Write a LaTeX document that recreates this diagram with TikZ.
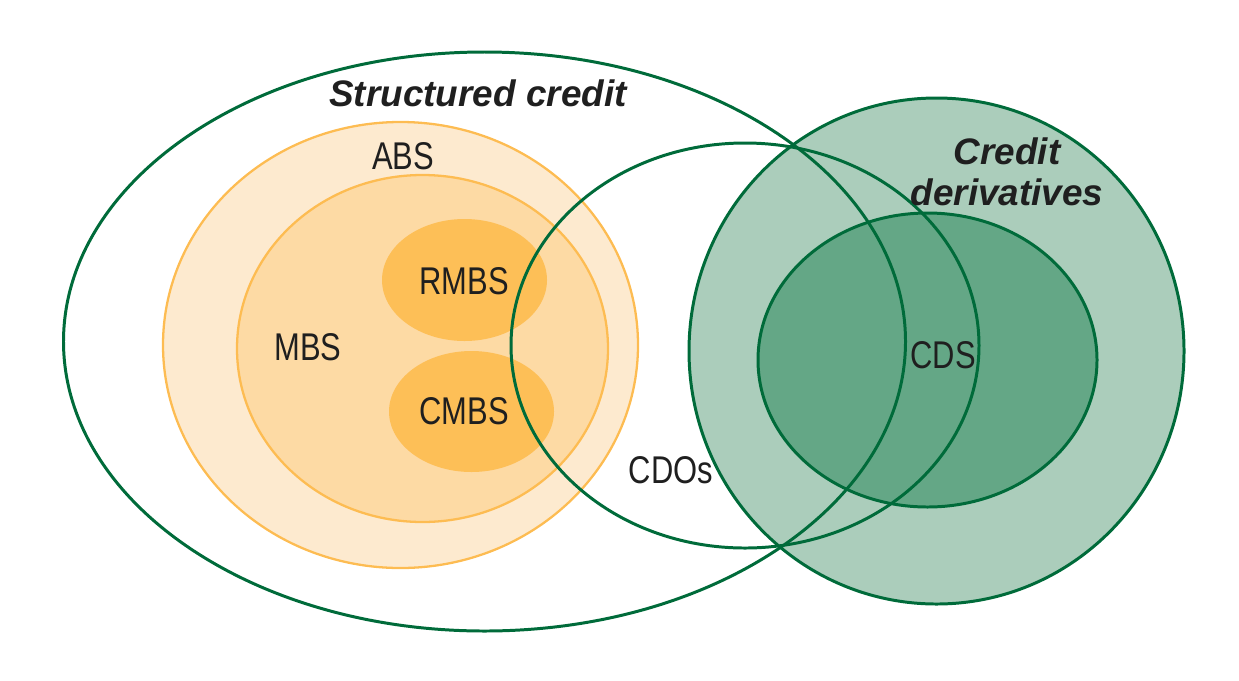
\documentclass[tikz,border=0pt]{standalone}
\usepackage{fontspec}
\setmainfont{Liberation Sans}
\newfontfamily\labelfont[FakeStretch=0.80]{Liberation Sans}

\definecolor{cdogreen}{RGB}{0,107,58}
\definecolor{cdfill}{RGB}{171,205,187}
\definecolor{cdsfill}{RGB}{100,167,134}
\definecolor{absline}{RGB}{253,188,82}
\definecolor{absfill}{RGB}{253,234,207}
\definecolor{mbsfill}{RGB}{253,218,164}
\definecolor{rmbsfill}{RGB}{253,191,87}

\begin{document}
\begin{tikzpicture}[x=0.02cm, y=0.02cm,
  greenline/.style={draw=cdogreen, line width=1.7pt},
  orangeline/.style={draw=absline, line width=1.3pt},
  setlabel/.style={font=\labelfont\fontsize{22}{24}\selectfont, text=black!88, inner sep=0pt},
  titlelabel/.style={font=\bfseries\itshape\fontsize{21}{23}\selectfont, text=black!88, inner sep=0pt, align=center}]

\useasboundingbox (0,0) rectangle (1239,-680);

\fill[absfill] (400.5,-345) ellipse (237.5 and 223);
\fill[mbsfill] (422.5,-348.5) ellipse (185.5 and 173.5);
\fill[rmbsfill] (464.5,-280) ellipse (82.5 and 61);
\fill[rmbsfill] (471.5,-411.5) ellipse (82.5 and 60.5);
\fill[cdfill] (936.5,-351) ellipse (247.5 and 253);
\fill[cdsfill] (927.5,-360) ellipse (169.5 and 147);

\draw[orangeline] (400.5,-345) ellipse (237.5 and 223);
\draw[orangeline] (422.5,-348.5) ellipse (185.5 and 173.5);

\draw[greenline] (484.5,-341.5) ellipse (421 and 289.5);
\draw[greenline] (745,-345.5) ellipse (234 and 202.5);
\draw[greenline] (936.5,-351) ellipse (247.5 and 253);
\draw[greenline] (927.5,-360) ellipse (169.5 and 147);

\node[titlelabel] (structured) at (478,-93) {Structured credit};
\node[titlelabel] (derivatives) at (1007,-172) {Credit\\derivatives};
\node[setlabel] (abs) at (403,-156) {ABS};
\node[setlabel] (mbs) at (308,-347) {MBS};
\node[setlabel] (rmbs) at (464,-281) {RMBS};
\node[setlabel] (cmbs) at (464,-411) {CMBS};
\node[setlabel] (cdos) at (671,-470) {CDOs};
\node[setlabel] (cds) at (943,-355) {CDS};

\end{tikzpicture}
\end{document}
